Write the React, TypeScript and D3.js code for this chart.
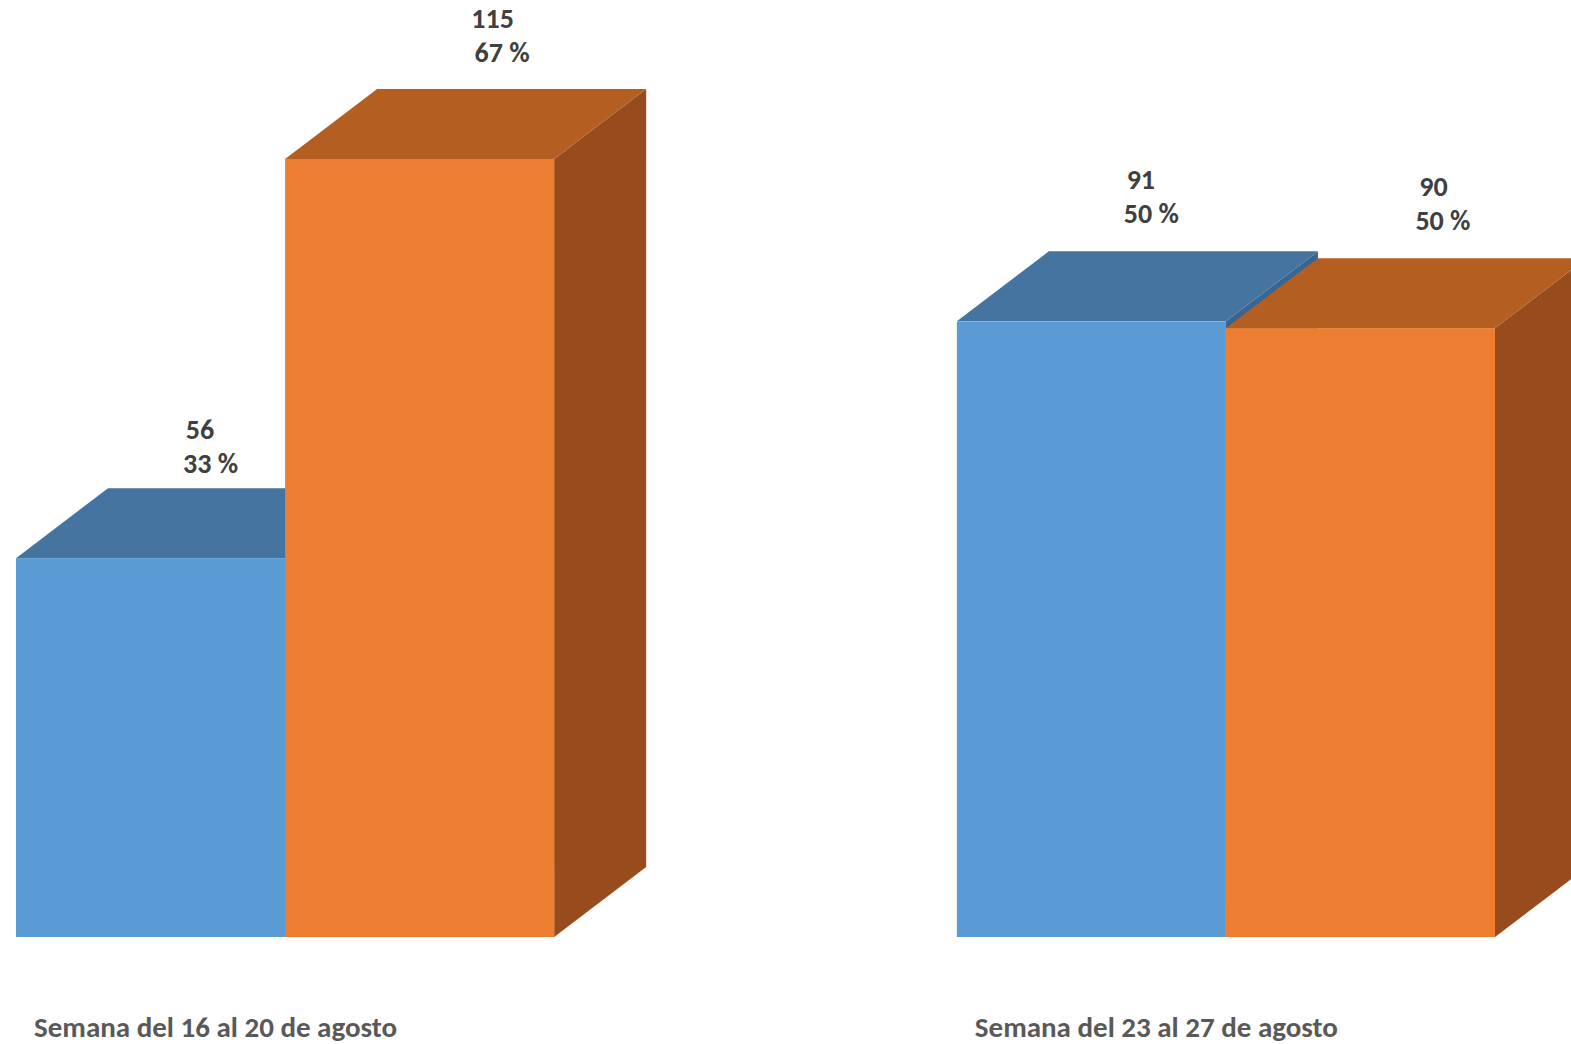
import { useEffect } from "react";
import * as d3 from "d3";

// weekly counts, two series per week
const categories = ["Semana del 16 al 20 de agosto", "Semana del 23 al 27 de agosto"];
const seriesNames = ["Serie 1", "Serie 2"];
const seriesA = [56, 91];
const seriesB = [115, 90];

const WIDTH = 1571;
const HEIGHT = 1044;
const DEPTH_X = 92;
const DEPTH_Y = 70;
const FONT = "Carlito, Calibri, 'Open Sans', sans-serif";

const COLORS = [
  { front: "#5b9bd5", top: "#44749f", side: "#3a6590" },
  { front: "#ed7d31", top: "#b45e22", side: "#984c1d" },
];

// label nudges (Excel places them slightly off-centre)
const labelDx = [3.5, 27];
const labelDx2 = [14, 36.5];
const labelDy = [
  [-59, -71],
  [-72, -72],
];

export default function App() {
  useEffect(() => {
    document.body.style.margin = "0";
  }, []);

  const values = [seriesA, seriesB];

  const x0 = d3
    .scaleBand<string>()
    .domain(categories)
    .range([16, 1495])
    .paddingInner(0.428)
    .paddingOuter(0);

  const x1 = d3
    .scaleBand<string>()
    .domain(seriesNames)
    .range([0, x0.bandwidth()]);

  const y = d3.scaleLinear().domain([0, 115]).range([937, 159]);

  const bars = categories.flatMap((cat, ci) => {
    const total = d3.sum(values, (s) => s[ci]);
    return seriesNames.map((name, si) => {
      const v = values[si][ci];
      return {
        cat,
        ci,
        si,
        v,
        pct: Math.round((v / total) * 100),
        x: (x0(cat) || 0) + (x1(name) || 0),
        w: x1.bandwidth(),
        top: y(v),
        base: y(0),
      };
    });
  });

  const pts = (p: number[][]) => p.map((q) => q.join(",")).join(" ");

  return (
    <svg width={WIDTH} height={HEIGHT} style={{ display: "block", background: "#fff" }}>
      {bars.map((b) => {
        const c = COLORS[b.si];
        const topFace = [
          [b.x, b.top],
          [b.x + DEPTH_X, b.top - DEPTH_Y],
          [b.x + b.w + DEPTH_X, b.top - DEPTH_Y],
          [b.x + b.w, b.top],
        ];
        const sideFace = [
          [b.x + b.w, b.top],
          [b.x + b.w + DEPTH_X, b.top - DEPTH_Y],
          [b.x + b.w + DEPTH_X, b.base - DEPTH_Y],
          [b.x + b.w, b.base],
        ];
        return (
          <g key={`${b.ci}-${b.si}`}>
            <polygon points={pts(sideFace)} fill={c.side} />
            <polygon points={pts(topFace)} fill={c.top} />
            <rect x={b.x} y={b.top} width={b.w} height={b.base - b.top} fill={c.front} />
          </g>
        );
      })}

      {bars.map((b) => {
        const mid = b.x + b.w / 2 + DEPTH_X / 2;
        const cy = b.top - DEPTH_Y + labelDy[b.ci][b.si];
        return (
          <g
            key={`lbl-${b.ci}-${b.si}`}
            fontFamily={FONT}
            fontWeight="bold"
            fontSize={28}
            fill="#404040"
            textAnchor="middle"
          >
            <text x={mid + labelDx[b.si]} y={cy + 10}>
              {b.v}
            </text>
            <text x={mid + labelDx2[b.si]} y={cy + 44}>
              {`${b.pct} %`}
            </text>
          </g>
        );
      })}

      {categories.map((cat) => (
        <text
          key={cat}
          x={(x0(cat) || 0) + 18}
          y={1037}
          fontFamily={FONT}
          fontWeight="bold"
          fontSize={29}
          fill="#595959"
        >
          {cat}
        </text>
      ))}
    </svg>
  );
}
